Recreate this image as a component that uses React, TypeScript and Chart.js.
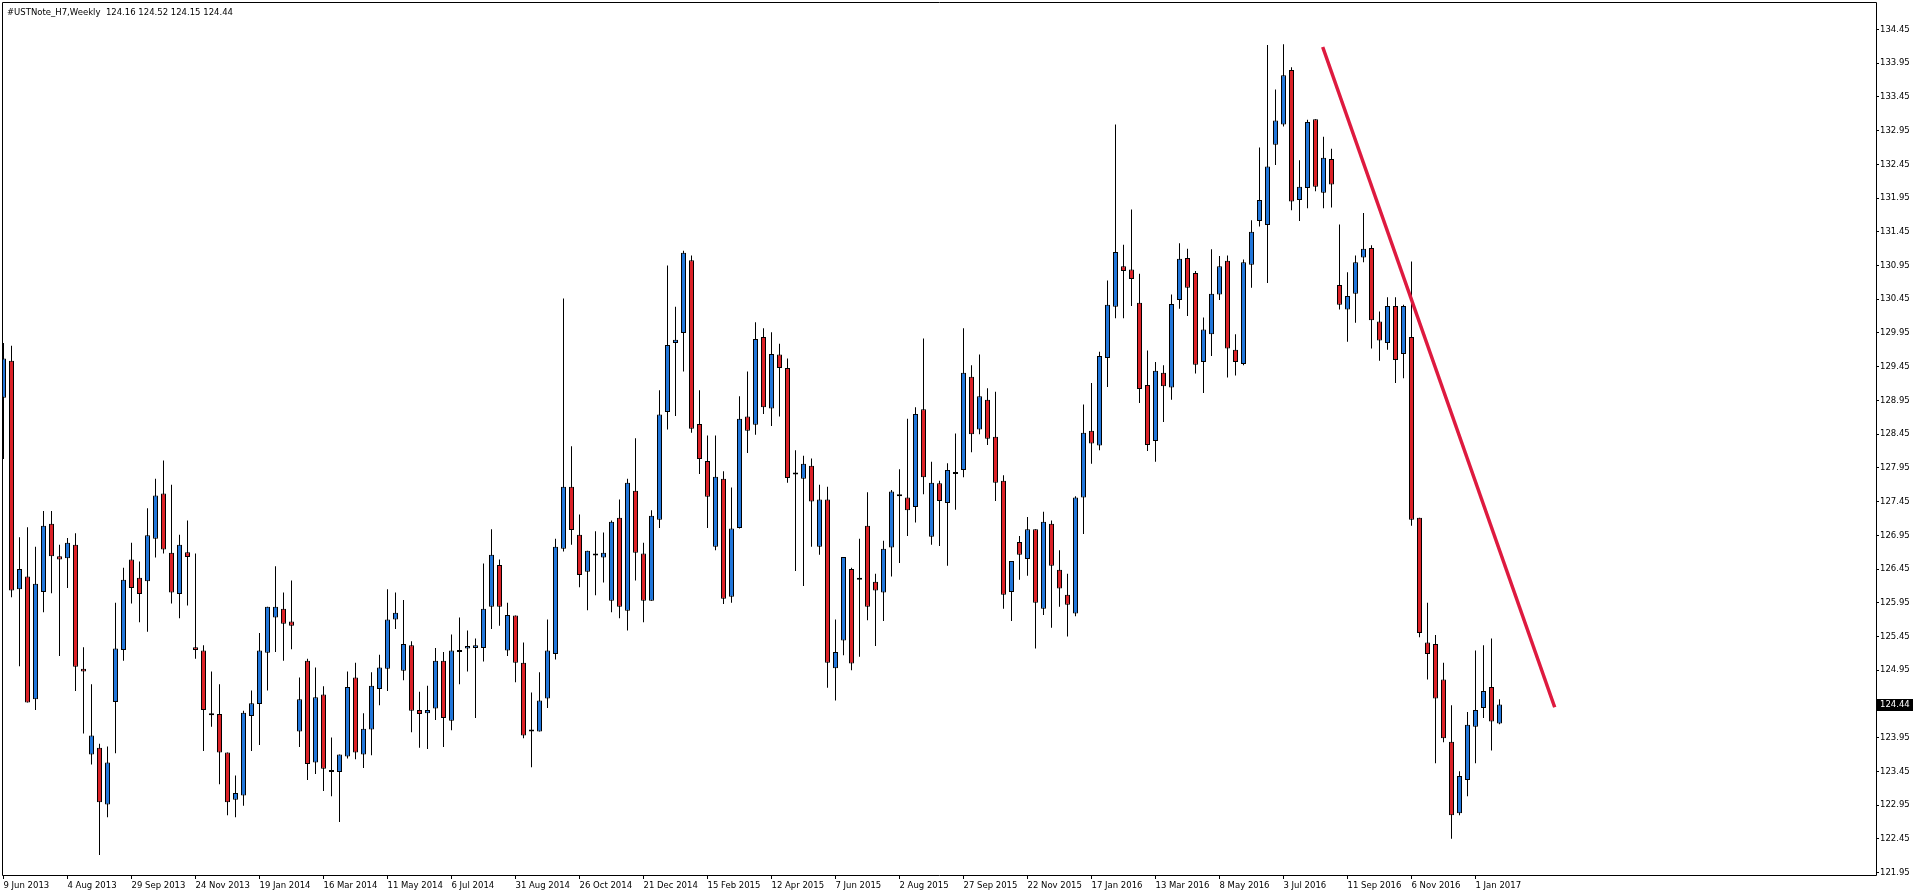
import React, { useEffect, useRef } from 'react';
import { Chart, registerables } from 'chart.js';

Chart.register(...registerables);

// ---- Data (weekly OHLC, #USTNote_H7) ----
const openP = [
  128.99, 129.54, 126.15, 126.34, 124.52, 126.11, 127.12, 126.64, 126.61, 126.81,
  124.97, 123.70, 123.80, 122.96, 124.48, 125.25, 126.59, 126.32, 126.27, 126.90,
  127.57, 126.69, 126.08, 126.70, 125.29, 125.24, 124.29, 124.30, 123.73, 123.03,
  123.09, 124.27, 124.45, 125.21, 125.73, 125.86, 125.67, 124.04, 125.09, 123.58,
  124.59, 123.45, 123.44, 123.67, 124.84, 123.70, 124.07, 124.67, 124.97, 125.70,
  124.94, 125.32, 124.36, 124.31, 124.38, 125.09, 124.20, 125.22, 125.27, 125.28,
  125.28, 125.89, 126.51, 125.24, 125.76, 125.06, 124.04, 124.04, 124.53, 125.19,
  126.75, 127.67, 126.96, 126.41, 126.68, 126.62, 125.98, 127.21, 125.83, 127.61,
  126.68, 125.98, 127.18, 128.78, 129.80, 129.95, 131.03, 128.60, 128.05, 126.78,
  127.79, 126.04, 127.06, 128.71, 128.59, 129.89, 128.83, 129.63, 129.43, 127.86,
  127.79, 127.98, 126.78, 127.48, 124.98, 125.39, 126.45, 126.32, 127.09, 126.26,
  126.10, 126.77, 127.56, 127.51, 127.37, 128.82, 126.93, 127.72, 127.43, 127.88,
  127.92, 129.30, 128.52, 128.96, 128.41, 127.76, 126.11, 126.85, 126.60, 127.04,
  125.86, 127.12, 126.44, 126.07, 125.79, 127.51, 128.50, 128.28, 129.58, 130.34,
  130.94, 130.89, 130.40, 129.18, 128.35, 129.36, 129.14, 130.44, 131.06, 130.84,
  129.52, 129.93, 130.52, 131.02, 129.70, 129.49, 130.96, 131.61, 131.55, 132.74,
  133.04, 133.85, 131.92, 132.10, 133.12, 132.03, 132.53, 130.66, 130.30, 130.53,
  131.07, 131.21, 130.12, 129.80, 130.35, 129.64, 129.89, 127.21, 125.36, 125.34,
  124.81, 123.89, 122.83, 123.32, 124.11, 124.39, 124.70, 124.16,
];
const highP = [
  129.80, 129.76, 126.92, 127.07, 126.78, 127.31, 127.31, 126.81, 126.91, 126.98,
  125.29, 124.74, 123.86, 123.82, 125.95, 126.47, 126.84, 126.56, 127.35, 127.79,
  128.06, 127.70, 126.96, 127.17, 126.68, 125.32, 124.93, 124.74, 123.73, 123.39,
  124.35, 124.65, 125.50, 125.89, 126.49, 126.10, 126.28, 124.84, 125.12, 124.99,
  124.71, 123.95, 123.70, 124.93, 125.06, 124.31, 124.92, 125.18, 126.15, 126.10,
  125.99, 125.38, 124.63, 124.72, 125.28, 125.22, 125.48, 125.73, 125.54, 125.42,
  126.53, 127.04, 126.59, 125.95, 125.76, 125.36, 124.62, 124.92, 125.70, 126.90,
  130.46, 128.27, 127.26, 126.72, 127.01, 126.99, 127.17, 127.48, 127.79, 128.39,
  126.84, 127.32, 129.10, 130.95, 130.34, 131.17, 131.10, 129.10, 128.43, 128.43,
  127.90, 127.66, 129.01, 129.38, 130.11, 130.02, 129.96, 129.79, 129.57, 128.21,
  128.13, 128.09, 127.70, 127.67, 125.70, 126.63, 126.47, 126.90, 127.59, 126.38,
  126.87, 127.62, 127.93, 128.68, 128.85, 129.87, 128.04, 127.76, 128.02, 128.46,
  130.02, 129.47, 129.63, 129.13, 129.08, 127.84, 126.57, 126.94, 127.22, 127.04,
  127.30, 127.17, 126.73, 126.38, 127.53, 128.89, 129.21, 129.67, 130.73, 133.04,
  131.26, 131.78, 130.83, 129.69, 129.52, 129.47, 130.52, 131.28, 131.20, 130.87,
  130.18, 131.19, 131.09, 131.10, 129.93, 131.04, 131.62, 132.70, 134.22, 133.56,
  134.23, 133.89, 132.51, 133.11, 133.12, 132.86, 132.68, 131.56, 130.85, 131.10,
  131.73, 131.25, 130.27, 130.48, 130.48, 130.37, 131.01, 127.21, 125.95, 125.47,
  125.06, 124.43, 123.45, 124.33, 125.24, 125.32, 125.42, 124.52,
];
const lowP = [
  128.08, 126.03, 125.01, 124.47, 124.36, 125.81, 126.09, 125.16, 126.17, 124.64,
  124.01, 123.55, 122.21, 122.77, 123.72, 125.09, 125.94, 125.66, 125.52, 126.62,
  126.68, 125.94, 125.72, 125.91, 125.12, 123.75, 124.11, 123.26, 122.80, 122.77,
  122.94, 123.75, 123.84, 124.65, 125.22, 125.09, 125.26, 123.81, 123.32, 123.41,
  123.16, 123.08, 122.70, 123.64, 123.63, 123.50, 123.69, 124.43, 124.64, 125.56,
  124.80, 124.03, 123.80, 123.78, 124.21, 123.81, 124.06, 124.74, 124.93, 124.24,
  125.08, 125.56, 125.61, 125.16, 124.77, 123.94, 123.51, 124.04, 124.39, 125.11,
  126.71, 126.81, 126.18, 125.84, 126.06, 126.25, 125.81, 125.72, 125.54, 126.28,
  125.66, 125.98, 127.06, 128.52, 128.72, 129.38, 128.47, 127.86, 127.06, 126.73,
  125.93, 125.95, 127.05, 128.17, 128.44, 128.75, 128.57, 128.71, 127.73, 126.42,
  126.20, 126.78, 126.66, 124.69, 124.50, 125.17, 124.95, 125.15, 125.69, 125.31,
  125.68, 126.34, 126.54, 126.94, 127.14, 127.56, 126.81, 126.79, 126.50, 127.33,
  127.81, 128.18, 128.45, 128.29, 127.46, 125.86, 125.68, 126.29, 126.35, 125.27,
  125.77, 125.58, 125.89, 125.45, 125.75, 126.97, 128.01, 128.21, 129.15, 130.17,
  130.17, 130.35, 128.91, 128.20, 128.04, 128.63, 128.96, 130.31, 130.20, 129.35,
  129.06, 129.61, 130.44, 129.29, 129.32, 129.47, 130.62, 131.53, 130.69, 132.44,
  133.01, 131.77, 131.61, 131.80, 132.05, 131.80, 131.81, 130.30, 129.82, 130.10,
  131.00, 129.72, 129.54, 129.70, 129.21, 129.28, 127.09, 125.44, 124.81, 123.57,
  123.88, 122.45, 122.80, 123.08, 123.57, 124.24, 123.76, 124.15,
];
const closeP = [
  129.57, 126.13, 126.45, 124.47, 126.23, 127.09, 126.64, 126.59, 126.84, 125.00,
  124.93, 123.98, 122.99, 123.58, 125.27, 126.29, 126.17, 126.08, 126.95, 127.54,
  126.74, 126.10, 126.81, 126.63, 125.25, 124.36, 124.28, 123.73, 122.99, 123.13,
  124.32, 124.46, 125.24, 125.89, 125.89, 125.64, 125.61, 124.52, 123.56, 124.55,
  123.49, 123.44, 123.70, 124.70, 123.73, 124.08, 124.72, 124.99, 125.70, 125.80,
  125.34, 124.35, 124.30, 124.36, 125.09, 124.24, 125.24, 125.25, 125.31, 125.32,
  125.86, 126.66, 125.89, 125.77, 125.06, 123.98, 124.07, 124.50, 125.24, 126.78,
  127.67, 127.03, 126.36, 126.72, 126.65, 126.69, 127.15, 125.89, 127.73, 126.69,
  125.98, 127.24, 128.74, 129.77, 129.85, 131.14, 128.53, 128.08, 127.52, 127.82,
  126.01, 127.05, 128.68, 128.50, 129.86, 128.85, 129.64, 129.43, 127.80, 127.85,
  128.01, 127.45, 127.48, 125.06, 125.22, 126.63, 125.05, 126.29, 125.89, 126.13,
  126.75, 127.60, 127.53, 127.32, 128.75, 127.81, 127.73, 127.46, 127.92, 127.86,
  129.36, 128.45, 129.01, 128.38, 127.73, 126.07, 126.57, 126.66, 127.04, 125.95,
  127.15, 126.50, 126.16, 125.92, 127.51, 128.47, 128.31, 129.61, 130.37, 131.15,
  130.87, 130.75, 129.12, 128.29, 129.39, 129.16, 130.38, 131.05, 130.62, 129.48,
  130.00, 130.53, 130.94, 129.72, 129.52, 131.00, 131.45, 131.92, 132.42, 133.10,
  133.77, 131.90, 132.12, 133.08, 132.12, 132.55, 132.15, 130.37, 130.50, 131.00,
  131.20, 130.14, 129.84, 130.35, 129.55, 130.35, 127.18, 125.50, 125.19, 124.53,
  123.94, 122.80, 123.38, 124.14, 124.36, 124.64, 124.19, 124.44,
];

const dateLabels = [
  '9 Jun 2013', '4 Aug 2013', '29 Sep 2013', '24 Nov 2013', '19 Jan 2014', '16 Mar 2014',
  '11 May 2014', '6 Jul 2014', '31 Aug 2014', '26 Oct 2014', '21 Dec 2014', '15 Feb 2015',
  '12 Apr 2015', '7 Jun 2015', '2 Aug 2015', '27 Sep 2015', '22 Nov 2015', '17 Jan 2016',
  '13 Mar 2016', '8 May 2016', '3 Jul 2016', '11 Sep 2016', '6 Nov 2016', '1 Jan 2017',
];
const dateTickIdx = [
  0, 8, 16, 24, 32, 40, 48, 56, 64, 72, 80, 88,
  96, 104, 112, 120, 128, 136, 144, 152, 160, 168, 176, 184,
];
const priceTicks = [
  121.95, 122.45, 122.95, 123.45, 123.95, 124.45, 124.95, 125.45, 125.95, 126.45,
  126.95, 127.45, 127.95, 128.45, 128.95, 129.45, 129.95, 130.45, 130.95, 131.45,
  131.95, 132.45, 132.95, 133.45, 133.95, 134.45,
];
const trendX = [164.9, 193.9];
const trendY = [134.19, 124.4];
const symbolName = '#USTNote_H7,Weekly';

const FONT = '"DejaVu Sans", Verdana, sans-serif';
const FONT_SIZE = 8.5;
const BULL = '#2176DA';
const BEAR = '#DB2127';

export default function App() {
  const ref = useRef<HTMLCanvasElement | null>(null);

  useEffect(() => {
    document.body.style.margin = '0';
    const canvas = ref.current;
    if (!canvas) return;
    const n = closeP.length;
    const last = n - 1;
    const idx = closeP.map((_, i) => i);
    const title = `${symbolName}  ${openP[last].toFixed(2)} ${highP[last].toFixed(2)} ${lowP[last].toFixed(2)} ${closeP[last].toFixed(2)}`;

    const overlay = {
      id: 'mtOverlay',
      afterDraw(chart: any) {
        const { ctx, chartArea: a, scales } = chart;
        ctx.save();
        ctx.strokeStyle = '#000';
        ctx.lineWidth = 1;
        ctx.beginPath();
        ctx.rect(a.left + 0.5, a.top + 0.5, a.right - a.left, a.bottom - a.top);
        ctx.stroke();
        const y = scales.y.getPixelForValue(closeP[last]);
        ctx.fillStyle = '#000';
        ctx.fillRect(a.right + 1, Math.round(y) - 6, 36, 12);
        ctx.fillStyle = '#fff';
        ctx.font = `${FONT_SIZE}px ${FONT}`;
        ctx.textBaseline = 'middle';
        ctx.textAlign = 'left';
        ctx.fillText(closeP[last].toFixed(2), a.right + 4, y);
        ctx.fillStyle = '#000';
        ctx.textBaseline = 'alphabetic';
        ctx.fillText(title, 7, 15);
        ctx.restore();
      },
    };

    const chart = new Chart(canvas, {
      type: 'bar',
      data: {
        datasets: [
          {
            type: 'line',
            data: trendX.map((x, k) => ({ x, y: trendY[k] })),
            borderColor: '#DE1A3F',
            borderWidth: 3.5,
            pointRadius: 0,
            tension: 0,
            order: 0,
          } as any,
          {
            type: 'bar',
            data: idx.map((i) => ({ x: i, y: [openP[i], closeP[i]] })),
            backgroundColor: idx.map((i) => (closeP[i] >= openP[i] ? BULL : BEAR)),
            borderColor: '#000',
            borderWidth: 1,
            borderSkipped: false,
            barThickness: 5,
            minBarLength: 2,
            grouped: false,
            inflateAmount: 0,
            order: 1,
          } as any,
          {
            type: 'bar',
            data: idx.map((i) => ({ x: i, y: [lowP[i], highP[i]] })),
            backgroundColor: '#000',
            borderWidth: 0,
            barThickness: 1,
            grouped: false,
            inflateAmount: 0,
            order: 2,
          } as any,
        ],
      },
      options: {
        responsive: false,
        animation: false,
        devicePixelRatio: 1,
        events: [],
        layout: { padding: { left: 2, top: 2, right: 0, bottom: 0 } },
        plugins: {
          legend: { display: false },
          tooltip: { enabled: false },
          title: { display: false },
        },
        scales: {
          x: {
            type: 'linear',
            position: 'bottom',
            min: -0.1875,
            max: 234.0625,
            offset: false,
            grid: {
              display: true,
              drawOnChartArea: false,
              drawTicks: true,
              tickLength: 4,
              color: '#000',
              offset: false,
            },
            border: { display: false },
            ticks: {
              autoSkip: false,
              maxRotation: 0,
              minRotation: 0,
              align: 'start',
              padding: 2,
              color: '#000',
              font: { family: FONT, size: FONT_SIZE },
              callback: (v: any) => {
                const k = dateTickIdx.indexOf(Number(v));
                return k >= 0 ? dateLabels[k] : '';
              },
            },
            afterBuildTicks: (s: any) => {
              s.ticks = dateTickIdx.map((v) => ({ value: v }));
            },
            afterFit: (s: any) => {
              s.height = 21;
              s.paddingLeft = 0;
              s.paddingRight = 0;
            },
          },
          y: {
            type: 'linear',
            position: 'right',
            min: 121.9129,
            max: 134.8578,
            beginAtZero: false,
            grid: {
              display: true,
              drawOnChartArea: false,
              drawTicks: true,
              tickLength: 3,
              color: '#000',
            },
            border: { display: false },
            ticks: {
              autoSkip: false,
              padding: 1,
              color: '#000',
              font: { family: FONT, size: FONT_SIZE },
              callback: (v: any) => Number(v).toFixed(2),
            },
            afterBuildTicks: (s: any) => {
              s.ticks = priceTicks.map((v) => ({ value: v }));
            },
            afterFit: (s: any) => {
              s.width = 40;
              s.paddingTop = 0;
              s.paddingBottom = 0;
            },
          },
        },
      } as any,
      plugins: [overlay],
    });

    return () => chart.destroy();
  }, []);

  return (
    <canvas
      ref={ref}
      width={1916}
      height={896}
      style={{ display: 'block', width: 1916, height: 896 }}
    />
  );
}
